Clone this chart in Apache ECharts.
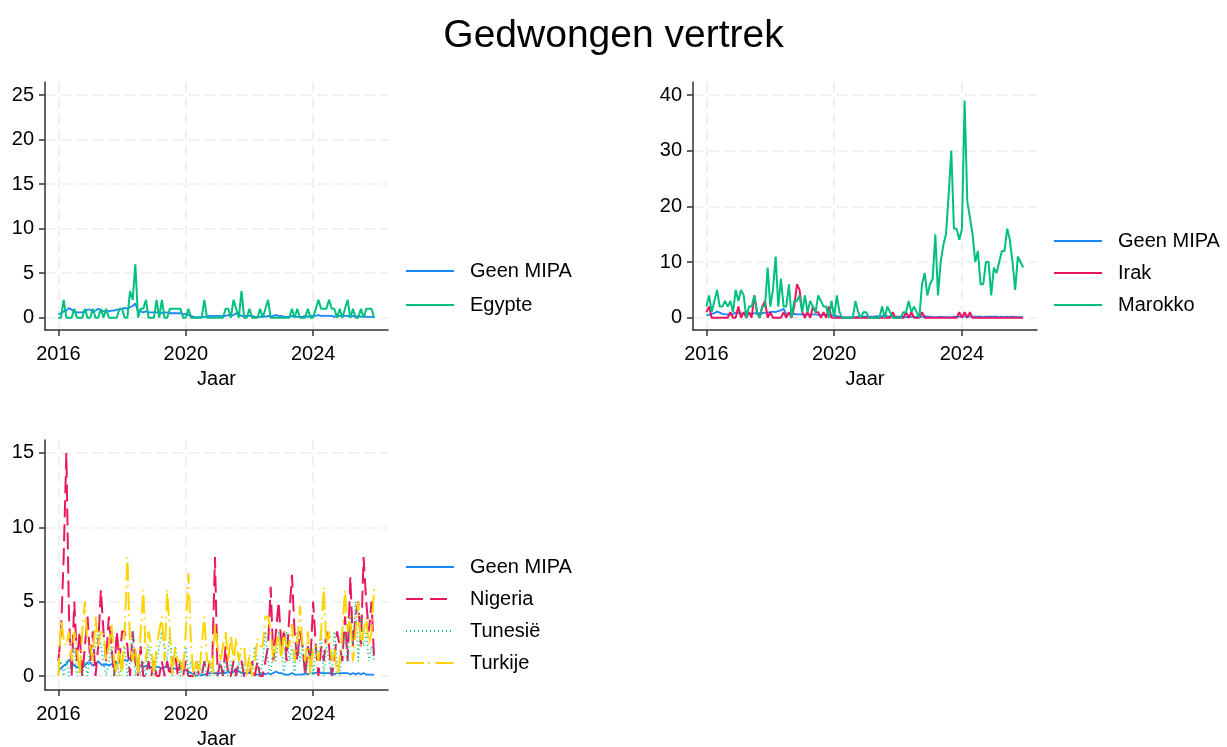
<!DOCTYPE html>
<html>
<head>
<meta charset="utf-8">
<script src="https://cdn.jsdelivr.net/npm/echarts@6/dist/echarts.min.js"></script>
<style>
  html, body { margin: 0; padding: 0; background: #fff; }
  #chart { width: 1227px; height: 747px; }
</style>
</head>
<body>
<div id="chart"></div>
<script>
// maanden jan 2016 t/m dec 2025
const maanden = [];
for (let j = 2016; j <= 2025; j++) {
  for (let m = 1; m <= 12; m++) maanden.push(j + "-" + String(m).padStart(2, "0"));
}

const geenMipa = [
  0.4, 0.5, 0.7, 0.8, 1.1, 0.9, 0.7, 0.6, 0.6, 0.6, 0.7, 0.9,
  0.9, 0.7, 0.8, 1.0, 0.8, 0.7, 0.8, 0.7, 0.8, 0.8, 0.9, 0.9,
  1.0, 1.1, 1.0, 1.2, 1.3, 1.6, 0.7, 0.7, 0.6, 0.7, 0.6, 0.6,
  0.6, 0.6, 0.6, 0.5, 0.6, 0.6, 0.5, 0.5, 0.5, 0.5, 0.5, 0.4,
  0.4, 0.3, 0.2, 0.1, 0.05, 0.05, 0.05, 0.1, 0.1, 0.2, 0.2, 0.2,
  0.2, 0.2, 0.2, 0.2, 0.3, 0.2, 0.3, 0.5, 0.3, 0.2, 0.2, 0.2,
  0.2, 0.2, 0.1, 0.1, 0.1, 0.2, 0.1, 0.2, 0.1, 0.2, 0.3, 0.2,
  0.2, 0.1, 0.1, 0.1, 0.2, 0.1, 0.1, 0.1, 0.1, 0.2, 0.1, 0.2,
  0.2, 0.2, 0.3, 0.2, 0.2, 0.2, 0.2, 0.2, 0.1, 0.2, 0.2, 0.2,
  0.2, 0.2, 0.1, 0.2, 0.1, 0.2, 0.1, 0.2, 0.1, 0.1, 0.1, 0.1
];
const egypte = [
  0, 0, 2, 0, 0, 0, 1, 0, 0, 0, 1, 0,
  0, 1, 0, 0, 1, 0, 1, 0, 0, 0, 0, 1,
  1, 0, 0, 3, 2, 6, 0, 1, 1, 2, 0, 0,
  0, 2, 0, 2, 0, 0, 1, 1, 1, 1, 1, 0,
  0, 1, 0, 0, 0, 0, 0, 2, 0, 0, 0, 0,
  0, 0, 0, 1, 1, 0, 2, 1, 0, 3, 0, 0,
  1, 0, 0, 0, 1, 0, 1, 2, 0, 0, 0, 0,
  0, 0, 0, 0, 1, 0, 1, 0, 0, 0, 1, 0,
  0, 1, 2, 1, 1, 1, 2, 1, 1, 0, 1, 0,
  1, 2, 0, 1, 0, 0, 1, 0, 1, 1, 1, 0
];
const irak = [
  1, 2, 0, 0, 0, 0, 0, 0, 0, 1, 0, 0,
  2, 0, 1, 0, 1, 0, 4, 1, 0, 2, 3, 0,
  1, 0, 0, 0, 0, 1, 0, 1, 0, 2, 6, 5,
  1, 0, 1, 0, 2, 1, 1, 0, 1, 0, 2, 0,
  0, 0, 0, 0, 0, 0, 0, 0, 0, 0, 0, 0,
  0, 0, 0, 0, 0, 0, 0, 0, 0, 0, 1, 0,
  0, 0, 0, 1, 0, 1, 0, 0, 0, 1, 0, 0,
  0, 0, 0, 0, 0, 0, 0, 0, 0, 0, 0, 1,
  0, 1, 0, 1, 0, 0, 0, 0, 0, 0, 0, 0,
  0, 0, 0, 0, 0, 0, 0, 0, 0, 0, 0, 0
];
const marokko = [
  2, 4, 1, 3, 5, 2, 2, 3, 2, 3, 1, 5,
  3, 5, 4, 0, 2, 2, 4, 1, 0, 2, 2, 9,
  2, 5, 11, 2, 7, 2, 2, 6, 0, 3, 3, 4,
  1, 4, 1, 3, 2, 1, 4, 3, 2, 2, 0, 3,
  0, 4, 1, 0, 0, 0, 0, 0, 3, 1, 0, 1,
  1, 0, 0, 0, 0, 0, 2, 0, 2, 1, 0, 0,
  0, 0, 1, 1, 3, 1, 2, 1, 0, 6, 8, 4,
  6, 7, 15, 4, 10, 13, 15, 22, 30, 16, 16, 14,
  16, 39, 21, 18, 15, 10, 12, 6, 6, 10, 10, 4,
  9, 8, 10, 12, 12, 16, 14, 10, 5, 11, 10, 9
];
const nigeria = [
  1, 3, 8, 15, 4, 0, 5, 1, 3, 0, 2, 4,
  1, 3, 0, 2, 5.8, 3, 1, 4, 2, 0, 3, 1,
  3, 3, 2, 0, 3, 1, 0, 2, 0, 0, 1, 0,
  1, 0, 0, 1, 0, 1, 0, 1, 1.5, 0, 1, 0,
  1, 0, 0, 0, 1, 0, 0, 1, 0, 1, 1, 8,
  0, 1, 0, 2, 0, 0, 1, 0, 1, 1, 0, 0,
  0, 1, 0, 1, 0, 0, 1, 2, 6, 1, 3, 5,
  2, 3, 1, 4, 6.8, 3, 1, 3, 2, 0, 2, 1,
  5, 2, 0, 2, 1, 3, 2, 0, 1, 3, 2, 1,
  4, 1, 6.7, 2, 4, 5, 2, 8, 5, 3, 5, 1
];
const tunesie = [
  0, 1, 0, 1, 0, 1, 2, 0, 1, 0, 1, 0,
  2, 1, 2, 3, 2, 1, 0, 1, 2, 0, 1, 0,
  1, 2, 0, 1, 3, 0, 1, 0, 1, 0, 2, 1,
  0, 1, 2, 3, 2, 1, 3, 0, 2, 1, 0, 1,
  2, 0, 1, 0, 0, 1, 0, 1, 0, 0, 1, 0,
  0, 1, 0, 1, 0, 1, 0, 0, 1, 0, 1, 0,
  1, 0, 2, 1, 0, 1, 3, 1, 0, 2, 1, 3,
  2, 0, 3, 1, 2, 0, 3, 1, 2, 0, 1, 2,
  0, 2, 1, 3, 0, 2, 1, 0, 3, 1, 0, 2,
  3, 1, 4, 2, 5, 1, 4, 2, 3, 1, 2, 1
];
const turkije = [
  0, 3.8, 2.5, 2, 3, 1, 3, 2, 0, 3, 5, 2,
  2, 1, 4, 2, 3, 3, 1, 2, 3.5, 1, 0, 2,
  0, 3, 8, 2, 1, 2, 0, 3, 5.8, 1, 3, 2,
  0, 2, 3, 4, 1, 5.8, 3, 0, 2, 1, 1, 0,
  3, 6.9, 2, 0, 1, 0, 2, 4, 1, 1, 0, 3.5,
  2, 1, 2, 3, 1, 2.8, 1, 2.5, 1, 2, 2, 0,
  1.5, 0, 1, 2.5, 2, 2, 4, 4, 3, 1, 2, 3,
  1, 3, 2, 2, 3.5, 1, 2, 4.7, 2, 1, 3, 0,
  2, 2, 1, 3, 6, 2, 3, 1, 2, 0, 1, 3,
  5.8, 3, 4, 1, 3, 5, 2, 3, 4, 2, 3, 6
];

const jaarTicks = [2016, 2020, 2024];
const yTicks1 = [0, 5, 10, 15, 20, 25];
const yTicks2 = [0, 10, 20, 30, 40];
const yTicks3 = [0, 5, 10, 15];

const FONT = "'Liberation Sans', Arial, Helvetica, sans-serif";
const asKleur = "#333";
const rasterStijl = { color: "#ebebeb", width: 1.5, type: [10, 6] };

// maand -> decimaal jaartal
function punten(values) {
  return values.map((v, i) => {
    const [j, m] = maanden[i].split("-");
    return [Number(j) + (Number(m) - 1) / 12, v];
  });
}

function xAs(gridIndex) {
  return {
    type: "value",
    gridIndex: gridIndex,
    min: 2015.58,
    max: 2026.35,
    name: "Jaar",
    nameLocation: "middle",
    nameGap: 39,
    nameTextStyle: { fontSize: 20, color: "#000", fontFamily: FONT },
    axisLine: { show: true, onZero: false, lineStyle: { color: asKleur, width: 1.5 } },
    axisTick: { show: true, customValues: jaarTicks, length: 6, lineStyle: { color: asKleur, width: 1.5 } },
    axisLabel: {
      customValues: jaarTicks,
      fontSize: 20,
      color: "#000",
      fontFamily: FONT,
      margin: 14,
      formatter: (v) => String(v),
    },
    splitLine: { show: true, lineStyle: rasterStijl },
  };
}

function yAs(gridIndex, ticks, min, max) {
  return {
    type: "value",
    gridIndex: gridIndex,
    min: min,
    max: max,
    axisLine: { show: true, onZero: false, lineStyle: { color: asKleur, width: 1.5 } },
    axisTick: { show: true, customValues: ticks, length: 6, lineStyle: { color: asKleur, width: 1.5 } },
    axisLabel: {
      customValues: ticks,
      fontSize: 20,
      color: "#000",
      fontFamily: FONT,
      margin: 11,
    },
    splitLine: { show: true, lineStyle: rasterStijl },
  };
}

function lijn(naam, values, kleur, idx, type, breedte) {
  return {
    name: naam,
    type: "line",
    xAxisIndex: idx,
    yAxisIndex: idx,
    data: punten(values),
    symbol: "none",
    silent: true,
    animation: false,
    lineStyle: { color: kleur, width: breedte || 2, type: type || "solid" },
    itemStyle: { color: kleur },
  };
}

function legenda(namen, left, top, gap) {
  return {
    data: namen,
    orient: "vertical",
    left: left,
    top: top,
    padding: 0,
    itemWidth: 48,
    itemHeight: 14,
    itemGap: gap,
    selectedMode: false,
    itemStyle: { opacity: 0 }, // alleen de lijn, geen bolletje
    textStyle: { fontSize: 20, color: "#000", fontFamily: FONT, padding: [0, 0, 0, 11] },
  };
}

const BLAUW = "#1a85ff";
const GROEN = "#00bf7f";
const ROOD = "#ea1660";
const GEEL = "#ffd400";

const chart = echarts.init(document.getElementById("chart"));

const option = {
  backgroundColor: "#fff",
  animation: false,
  title: {
    text: "Gedwongen vertrek",
    left: "center",
    top: 12,
    textStyle: { fontSize: 39, fontWeight: "normal", color: "#000", fontFamily: FONT },
  },
  grid: [
    { left: 45, top: 82, width: 343, height: 248, outerBoundsMode: "none" },
    { left: 693, top: 82, width: 344, height: 248, outerBoundsMode: "none" },
    { left: 45, top: 440, width: 343, height: 250, outerBoundsMode: "none" },
  ],
  xAxis: [xAs(0), xAs(1), xAs(2)],
  yAxis: [
    yAs(0, yTicks1, -1.38, 26.46),
    yAs(1, yTicks2, -2.21, 42.34),
    yAs(2, yTicks3, -0.94, 15.87),
  ],
  legend: [
    legenda(["Geen MIPA", "Egypte"], 405, 261, 14),
    legenda(["Geen MIPA", "Irak", "Marokko"], 1053, 231, 12),
    legenda(["Geen MIPA", "Nigeria", "Tunesië", "Turkije"], 405, 557, 12),
  ],
  series: [
    lijn("Geen MIPA", geenMipa, BLAUW, 0, "solid", 1.8),
    lijn("Egypte", egypte, GROEN, 0),

    lijn("Geen MIPA", geenMipa, BLAUW, 1, "solid", 1.8),
    lijn("Irak", irak, ROOD, 1),
    lijn("Marokko", marokko, GROEN, 1),

    lijn("Geen MIPA", geenMipa, BLAUW, 2, "solid", 1.8),
    lijn("Nigeria", nigeria, ROOD, 2, [17, 7]),
    lijn("Tunesië", tunesie, GROEN, 2, [1, 3], 1.6),
    lijn("Turkije", turkije, GEEL, 2, [18, 4, 1.5, 6]),
  ],
};

chart.setOption(option);
</script>
</body>
</html>
